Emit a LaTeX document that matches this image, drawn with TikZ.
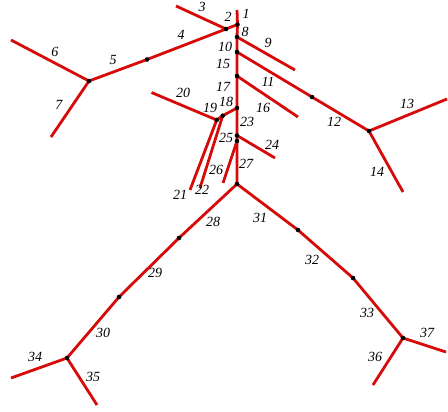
\documentclass[tikz,border=0pt]{standalone}
\usepackage{fontspec}
\setmainfont{Liberation Serif}
\definecolor{edgered}{RGB}{215,10,10}
\tikzset{
  edge/.style={draw=edgered,line width=2.8pt,line cap=butt},
  dotc/.style={fill=black},
  lab/.style={font=\fontsize{14}{14}\selectfont\itshape,inner sep=0pt}
}
\begin{document}
\begin{tikzpicture}[x=1pt,y=-1pt]
\useasboundingbox (0,0) rectangle (448,412);
% points
\coordinate (S0) at (237,10);
\coordinate (A) at (237.5,24.5);
\coordinate (J2) at (226,29);
\coordinate (T3) at (176,6);
\coordinate (D4) at (147,59.5);
\coordinate (J5) at (89,81);
\coordinate (E6) at (11,40);
\coordinate (E7) at (51,137);
\coordinate (B) at (237,37);
\coordinate (C) at (237,52);
\coordinate (D) at (237,76);
\coordinate (E) at (237,108);
\coordinate (F) at (237,135.5);
\coordinate (G) at (237,141);
\coordinate (H) at (237,184);
\coordinate (E9) at (295,70);
\coordinate (K) at (312,97);
\coordinate (L) at (369,131);
\coordinate (E13) at (447,99);
\coordinate (E14) at (403,192);
\coordinate (E16) at (298,117);
\coordinate (M) at (222.7,115.7);
\coordinate (N) at (216.7,120);
\coordinate (E20) at (151.5,92.5);
\coordinate (E21) at (190,190);
\coordinate (E22) at (200,188);
\coordinate (E24) at (275,158);
\coordinate (E26) at (223,183);
\coordinate (P1) at (179,238);
\coordinate (P2) at (119,297);
\coordinate (P3) at (67,358);
\coordinate (E34) at (11,378);
\coordinate (E35) at (97,405);
\coordinate (Q1) at (298,230);
\coordinate (Q2) at (353,278);
\coordinate (Q3) at (403,338);
\coordinate (E37) at (446,352);
\coordinate (E36) at (373,385);
% edges
\draw[edge] (S0) -- (A) -- (B) -- (C) -- (D) -- (E) -- (F) -- (G) -- (H);
\draw[edge] (A) -- (J2);
\draw[edge] (T3) -- (J2);
\draw[edge] (J2) -- (D4) -- (J5);
\draw[edge] (J5) -- (E6);
\draw[edge] (J5) -- (E7);
\draw[edge] (B) -- (E9);
\draw[edge] (C) -- (K) -- (L);
\draw[edge] (L) -- (E13);
\draw[edge] (L) -- (E14);
\draw[edge] (D) -- (E16);
\draw[edge] (E) -- (M) -- (N);
\draw[edge] (N) -- (E20);
\draw[edge] (N) -- (E21);
\draw[edge] (M) -- (E22);
\draw[edge] (F) -- (E24);
\draw[edge] (G) -- (E26);
\draw[edge] (H) -- (P1) -- (P2) -- (P3);
\draw[edge] (P3) -- (E34);
\draw[edge] (P3) -- (E35);
\draw[edge] (H) -- (Q1) -- (Q2) -- (Q3);
\draw[edge] (Q3) -- (E37);
\draw[edge] (Q3) -- (E36);
% dots
\foreach \p in {A,J2,D4,J5,B,C,D,E,F,G,H,K,L,M,N,P1,P2,P3,Q1,Q2,Q3}
  \fill[dotc] (\p) circle (2.3pt);
% labels
\node[lab] (l1) at (246,14) {1};
\node[lab] (l2) at (228,17) {2};
\node[lab] (l3) at (202,7) {3};
\node[lab] (l4) at (181,35) {4};
\node[lab] (l5) at (113,60) {5};
\node[lab] (l6) at (55,52) {6};
\node[lab] (l7) at (59,105) {7};
\node[lab] (l8) at (245,32) {8};
\node[lab] (l9) at (268,43) {9};
\node[lab] (l10) at (225,47) {10};
\node[lab] (l11) at (268,82) {11};
\node[lab] (l12) at (334,122) {12};
\node[lab] (l13) at (407,104) {13};
\node[lab] (l14) at (377,172) {14};
\node[lab] (l15) at (223,64) {15};
\node[lab] (l16) at (263,108) {16};
\node[lab] (l17) at (223,87) {17};
\node[lab] (l18) at (226,102) {18};
\node[lab] (l19) at (210,108) {19};
\node[lab] (l20) at (183,93) {20};
\node[lab] (l21) at (180,195) {21};
\node[lab] (l22) at (202,190) {22};
\node[lab] (l23) at (247,122) {23};
\node[lab] (l24) at (272,145) {24};
\node[lab] (l25) at (226,138) {25};
\node[lab] (l26) at (216,170) {26};
\node[lab] (l27) at (246,164) {27};
\node[lab] (l28) at (213,222) {28};
\node[lab] (l29) at (155,273) {29};
\node[lab] (l30) at (103,333) {30};
\node[lab] (l31) at (260,218) {31};
\node[lab] (l32) at (312,260) {32};
\node[lab] (l33) at (367,313) {33};
\node[lab] (l34) at (35,357) {34};
\node[lab] (l35) at (93,377) {35};
\node[lab] (l36) at (375,357) {36};
\node[lab] (l37) at (427,333) {37};
\end{tikzpicture}
\end{document}
